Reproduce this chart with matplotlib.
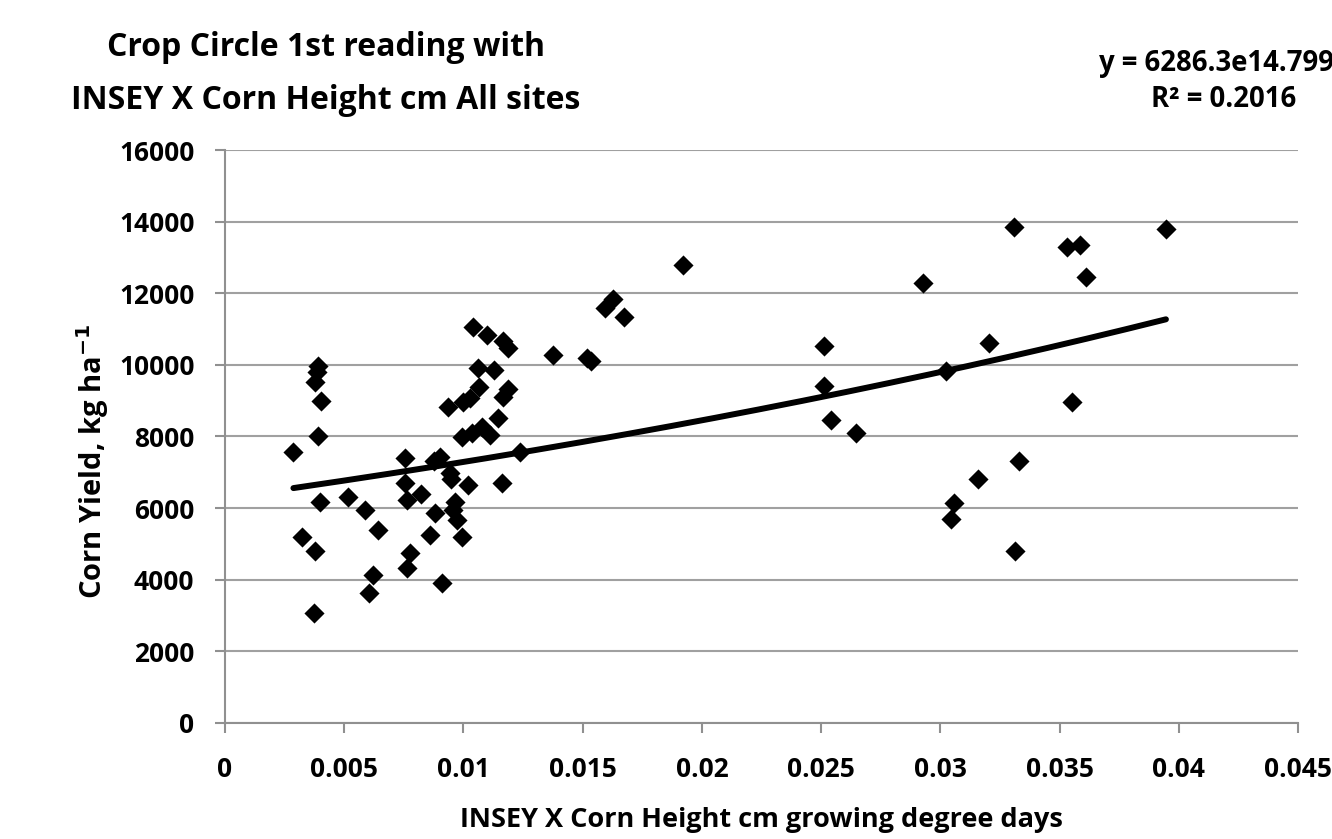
import matplotlib
matplotlib.use('Agg')
import matplotlib.pyplot as plt
import numpy as np

plt.rcParams['font.family'] = ['Open Sans', 'DejaVu Sans']
plt.rcParams['font.weight'] = 'bold'

# INSEY X Corn Height (cm / GDD) and corn yield (kg/ha)
insey = [
    0.00287, 0.00391, 0.00385, 0.00378, 0.00401, 0.00391, 0.00399, 0.00322,
    0.00378, 0.00375, 0.00517, 0.00587, 0.00643, 0.00622, 0.00604, 0.00755,
    0.00755, 0.00762, 0.00821, 0.00776, 0.00762, 0.00860, 0.00909, 0.00881,
    0.00878, 0.00902, 0.00944, 0.00948, 0.00965, 0.00956, 0.00972, 0.00993,
    0.01021, 0.01163, 0.01237, 0.00937, 0.00993, 0.01035, 0.01077, 0.01112,
    0.01000, 0.01028, 0.01067, 0.01146, 0.01167, 0.01188, 0.01063, 0.01128,
    0.01039, 0.01098, 0.01167, 0.01188,
    0.01922, 0.01594, 0.01626, 0.01675, 0.01375, 0.01519, 0.01535,
    0.03307, 0.03946, 0.03531, 0.03584, 0.03609, 0.02929, 0.02510, 0.03203,
    0.02510, 0.03023, 0.02541, 0.02646, 0.03553, 0.03328, 0.03157, 0.03058,
    0.03045, 0.03315,
]
yield_kg = [
    7577, 9980, 9812, 9533, 9002, 8016, 6181, 5204,
    4812, 3064, 6321, 5949, 5390, 4134, 3622, 7410,
    6694, 6228, 6388, 4757, 4321, 5251, 3919, 5857,
    7320, 7438, 6974, 6800, 6181, 5950, 5670, 5204,
    6647, 6712, 7577, 8834, 7997, 8090, 8276, 8044,
    8974, 9067, 9376, 8510, 9114, 9320, 9907, 9860,
    11069, 10837, 10678, 10465,
    12792, 11583, 11834, 11348, 10278, 10200, 10100,
    13862, 13788, 13303, 13350, 12465, 12281, 10538, 10605,
    9421, 9831, 8463, 8091, 8957, 7326, 6815, 6136,
    5689, 4812,
]

# exponential trendline y = a * exp(b x)
fit_a = 6286.3
fit_b = 14.799

x_ticks = [0, 0.005, 0.01, 0.015, 0.02, 0.025, 0.03, 0.035, 0.04, 0.045]
x_tick_labels = ['0', '0.005', '0.01', '0.015', '0.02', '0.025', '0.03', '0.035', '0.04', '0.045']
y_ticks = [0, 2000, 4000, 6000, 8000, 10000, 12000, 14000, 16000]

fig = plt.figure(figsize=(13.32, 8.39), dpi=100)
ax = fig.add_axes([0.1689, 0.1383, 0.8056, 0.6829])

ax.scatter(insey, yield_kg, marker='D', s=105, color='black', zorder=3, linewidths=0)

xs = np.linspace(min(insey), max(insey), 200)
ax.plot(xs, fit_a * np.exp(fit_b * xs), color='black', linewidth=4.3,
        solid_capstyle='round', zorder=4)

ax.set_xlim(0, 0.045)
ax.set_ylim(0, 16000)
ax.set_xticks(x_ticks)
ax.set_xticklabels(x_tick_labels)
ax.set_yticks(y_ticks)
ax.yaxis.grid(True, color='#a0a0a0', linewidth=1.5)
ax.set_axisbelow(True)
for side in ['top', 'right']:
    ax.spines[side].set_visible(False)
for side in ['left', 'bottom']:
    ax.spines[side].set_color('#909090')
    ax.spines[side].set_linewidth(1.5)
ax.tick_params(axis='both', labelsize=19, colors='#909090', labelcolor='black',
               length=7, width=1.5)
ax.tick_params(axis='x', pad=17)
ax.tick_params(axis='y', pad=15)

ax.set_xlabel('INSEY X Corn Height cm growing degree days', fontsize=19.5,
              fontweight='bold', labelpad=17)
ax.set_ylabel('Corn Yield, kg ha$^{\\mathbf{-1}}$', fontsize=21, fontweight='bold')
ax.yaxis.set_label_coords(-0.106, 0.457)

fig.text(0.2447, 0.9118, 'Crop Circle 1st reading with\nINSEY X Corn Height cm All sites',
         ha='center', va='center', fontsize=23, fontweight='bold', linespacing=1.77)
# the reference clips the equation at the right edge of the image
fig.text(0.919, 0.9029, 'y = 6286.3e14.799x\nR² = 0.2016', ha='center', va='center',
         fontsize=19.8, fontweight='bold', linespacing=1.35)

fig.savefig('out.png', dpi=100)
